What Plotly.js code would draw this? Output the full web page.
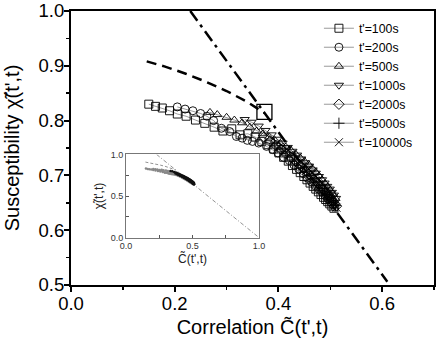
<!DOCTYPE html>
<html>
<head>
<meta charset="utf-8">
<script src="https://cdn.plot.ly/plotly-3.0.1.min.js"></script>
<style>
  body { margin: 0; background: #fff; }
  #myPlot { width: 436px; height: 338px; }
</style>
</head>
<body>
<div id="myPlot"></div>
<script>
// waiting times of each series
var seriesNames = ["t'=100s", "t'=200s", "t'=500s", "t'=1000s", "t'=2000s", "t'=5000s", "t'=10000s"];
var seriesSymbols = ["square-open", "circle-open", "triangle-up-open", "triangle-down-open", "diamond-open", "cross-thin-open", "x-thin-open"];

// correlation / susceptibility
var c100 = [0.150,0.163,0.176,0.190,0.205,0.222,0.240,0.258,0.276,0.293,0.310,0.326,0.341,0.355,0.368,0.380,0.391,0.401,0.410,0.419,0.427,0.435,0.442,0.449,0.455,0.461,0.467,0.472,0.477,0.482,0.487,0.491,0.495,0.499,0.503,0.507];
var x100 = [0.830,0.826,0.823,0.818,0.812,0.808,0.801,0.795,0.788,0.781,0.785,0.774,0.776,0.770,0.762,0.756,0.748,0.741,0.733,0.726,0.718,0.711,0.705,0.698,0.692,0.686,0.680,0.675,0.670,0.665,0.660,0.656,0.652,0.648,0.644,0.640];

var c200 = [0.205,0.220,0.235,0.250,0.262,0.275,0.290,0.306,0.319,0.330,0.340,0.350,0.362,0.377,0.389,0.399,0.410,0.421,0.430,0.439,0.448,0.456,0.464,0.471,0.478,0.484,0.490,0.495,0.500,0.505,0.509];
var x200 = [0.825,0.821,0.818,0.813,0.808,0.800,0.786,0.780,0.771,0.768,0.764,0.762,0.759,0.753,0.747,0.741,0.733,0.727,0.719,0.712,0.703,0.695,0.688,0.681,0.675,0.669,0.663,0.658,0.652,0.647,0.642];

var c500 = [0.268,0.282,0.300,0.315,0.330,0.345,0.358,0.370,0.382,0.393,0.404,0.414,0.424,0.433,0.442,0.450,0.458,0.465,0.472,0.478,0.484,0.490,0.495,0.500,0.505,0.510];
var x500 = [0.815,0.811,0.806,0.801,0.796,0.788,0.781,0.776,0.770,0.764,0.758,0.752,0.746,0.739,0.732,0.726,0.720,0.713,0.706,0.699,0.692,0.685,0.679,0.673,0.666,0.658];

var c1000 = [0.335,0.348,0.362,0.375,0.387,0.398,0.408,0.418,0.427,0.436,0.444,0.452,0.459,0.466,0.472,0.478,0.484,0.489,0.494,0.499,0.503,0.507,0.511];
var x1000 = [0.802,0.797,0.790,0.782,0.774,0.766,0.759,0.751,0.744,0.737,0.730,0.723,0.717,0.710,0.704,0.698,0.692,0.686,0.680,0.675,0.669,0.664,0.658];

var c2000 = [0.372,0.384,0.395,0.405,0.415,0.424,0.433,0.441,0.449,0.456,0.463,0.469,0.475,0.481,0.486,0.491,0.496,0.500,0.504,0.508,0.512];
var x2000 = [0.770,0.762,0.755,0.748,0.740,0.733,0.726,0.719,0.712,0.705,0.699,0.693,0.687,0.681,0.675,0.670,0.664,0.659,0.654,0.649,0.644];

var c5000 = [0.392,0.403,0.413,0.422,0.431,0.439,0.447,0.454,0.461,0.467,0.473,0.479,0.484,0.489,0.494,0.498,0.502,0.506,0.510];
var x5000 = [0.758,0.750,0.743,0.736,0.728,0.721,0.714,0.707,0.700,0.694,0.688,0.682,0.676,0.670,0.665,0.660,0.655,0.650,0.645];

var c10000 = [0.402,0.412,0.421,0.430,0.438,0.446,0.453,0.460,0.466,0.472,0.478,0.483,0.488,0.493,0.497,0.501,0.505,0.509,0.512];
var x10000 = [0.752,0.744,0.737,0.729,0.722,0.715,0.708,0.701,0.695,0.689,0.683,0.677,0.671,0.666,0.661,0.656,0.651,0.646,0.641];

var allC = [c100, c200, c500, c1000, c2000, c5000, c10000];
var allChi = [x100, x200, x500, x1000, x2000, x5000, x10000];

// FDT straight line (main and inset) and the dashed curve
var fdtC = [0.23, 0.61];
var fdtChi = [1.0, 0.506];
var fdtInsetC = [0.23, 1.0];
var fdtInsetChi = [1.0, 0.0];
var dashC = [0.146, 0.18, 0.22, 0.26, 0.30, 0.34, 0.373];
var dashChi = [0.908, 0.899, 0.886, 0.871, 0.854, 0.834, 0.814];
var boxC = [0.373];
var boxChi = [0.816];

var data = [];

data.push({
  x: fdtC, y: fdtChi, mode: "lines", showlegend: false,
  line: {color: "black", width: 2.5, dash: "12px,5px,3px,5px"}
});
data.push({
  x: dashC, y: dashChi, mode: "lines", showlegend: false,
  line: {color: "black", width: 2.5, dash: "10px,6px"}
});

for (var i = 0; i < allC.length; i++) {
  data.push({
    x: allC[i], y: allChi[i],
    mode: "lines+markers",
    name: seriesNames[i],
    line: {color: "#555", width: 0.6},
    marker: {symbol: seriesSymbols[i], size: 8, color: "black", line: {color: "black", width: 0.9}}
  });
}

data.push({
  x: boxC, y: boxChi, mode: "markers", showlegend: false,
  marker: {symbol: "square-open", size: 15, color: "black", line: {color: "black", width: 1.3}}
});

// inset
data.push({
  x: fdtInsetC, y: fdtInsetChi, xaxis: "x2", yaxis: "y2", mode: "lines", showlegend: false,
  line: {color: "#777", width: 0.8, dash: "4px,2px,1px,2px"}
});
data.push({
  x: dashC, y: dashChi, xaxis: "x2", yaxis: "y2", mode: "lines", showlegend: false,
  line: {color: "#777", width: 0.8, dash: "3px,2px"}
});
for (var j = 0; j < allC.length; j++) {
  data.push({
    x: allC[j], y: allChi[j], xaxis: "x2", yaxis: "y2", mode: "markers", showlegend: false,
    marker: {symbol: "circle", size: 2.5, color: j < 3 ? "#888" : "#111"}
  });
}

var fnt = "Liberation Sans, Arial, sans-serif";

var layout = {
  width: 436,
  height: 338,
  margin: {l: 71, r: 2, t: 11, b: 53},
  paper_bgcolor: "white",
  plot_bgcolor: "white",
  font: {family: fnt, color: "black"},
  showlegend: true,
  legend: {
    x: 0.683, y: 0.99, xanchor: "left", yanchor: "top",
    bgcolor: "rgba(0,0,0,0)", font: {size: 12.3, family: fnt},
    tracegroupgap: 0, itemwidth: 30
  },
  xaxis: {
    range: [0, 0.7], dtick: 0.2, tickformat: ".1f",
    showline: true, linecolor: "black", linewidth: 2, mirror: true,
    ticks: "outside", ticklen: 5, tickwidth: 2, tickcolor: "black",
    minor: {dtick: 0.1, ticks: "outside", ticklen: 3, tickwidth: 1.5, tickcolor: "black"},
    showgrid: false, zeroline: false,
    tickfont: {size: 18.5}, ticklabelstandoff: -4, ticklabeloverflow: "allow",
    title: {text: "Correlation C\u0303(t',t)", font: {size: 20}, standoff: 10}
  },
  yaxis: {
    range: [0.5, 1.0], dtick: 0.1, tickformat: ".1f",
    showline: true, linecolor: "black", linewidth: 2, mirror: true,
    ticks: "outside", ticklen: 5, tickwidth: 2, tickcolor: "black",
    minor: {dtick: 0.05, ticks: "outside", ticklen: 3, tickwidth: 1.5, tickcolor: "black"},
    showgrid: false, zeroline: false,
    tickfont: {size: 18.5}, ticklabelstandoff: -4, ticklabeloverflow: "allow",
    title: {text: "Susceptibility \u03c7\u0303(t',t)", font: {size: 20}, standoff: 14}
  },
  xaxis2: {
    domain: [0.1515, 0.518], anchor: "y2", range: [0, 1], dtick: 0.5, tickformat: ".1f",
    showline: true, linecolor: "#777", linewidth: 1, mirror: true,
    ticks: "inside", ticklen: 3, tickwidth: 1, tickcolor: "#555",
    minor: {dtick: 0.25, ticks: "inside", ticklen: 3, tickcolor: "#555"},
    showgrid: false, zeroline: false,
    tickfont: {size: 9, color: "#333"},
    title: {text: "C\u0303(t',t)", font: {size: 12, color: "#222"}, standoff: 2}
  },
  yaxis2: {
    domain: [0.173, 0.4765], anchor: "x2", range: [0, 1], dtick: 0.5, tickformat: ".1f",
    showline: true, linecolor: "#777", linewidth: 1, mirror: true,
    ticks: "inside", ticklen: 3, tickwidth: 1, tickcolor: "#555",
    minor: {dtick: 0.25, ticks: "inside", ticklen: 3, tickcolor: "#555"},
    showgrid: false, zeroline: false,
    tickfont: {size: 9, color: "#333"},
    title: {text: "\u03c7\u0303(t',t)", font: {size: 12, color: "#222"}, standoff: 4}
  }
};

Plotly.newPlot("myPlot", data, layout, {displayModeBar: false, staticPlot: true});
</script>
</body>
</html>
